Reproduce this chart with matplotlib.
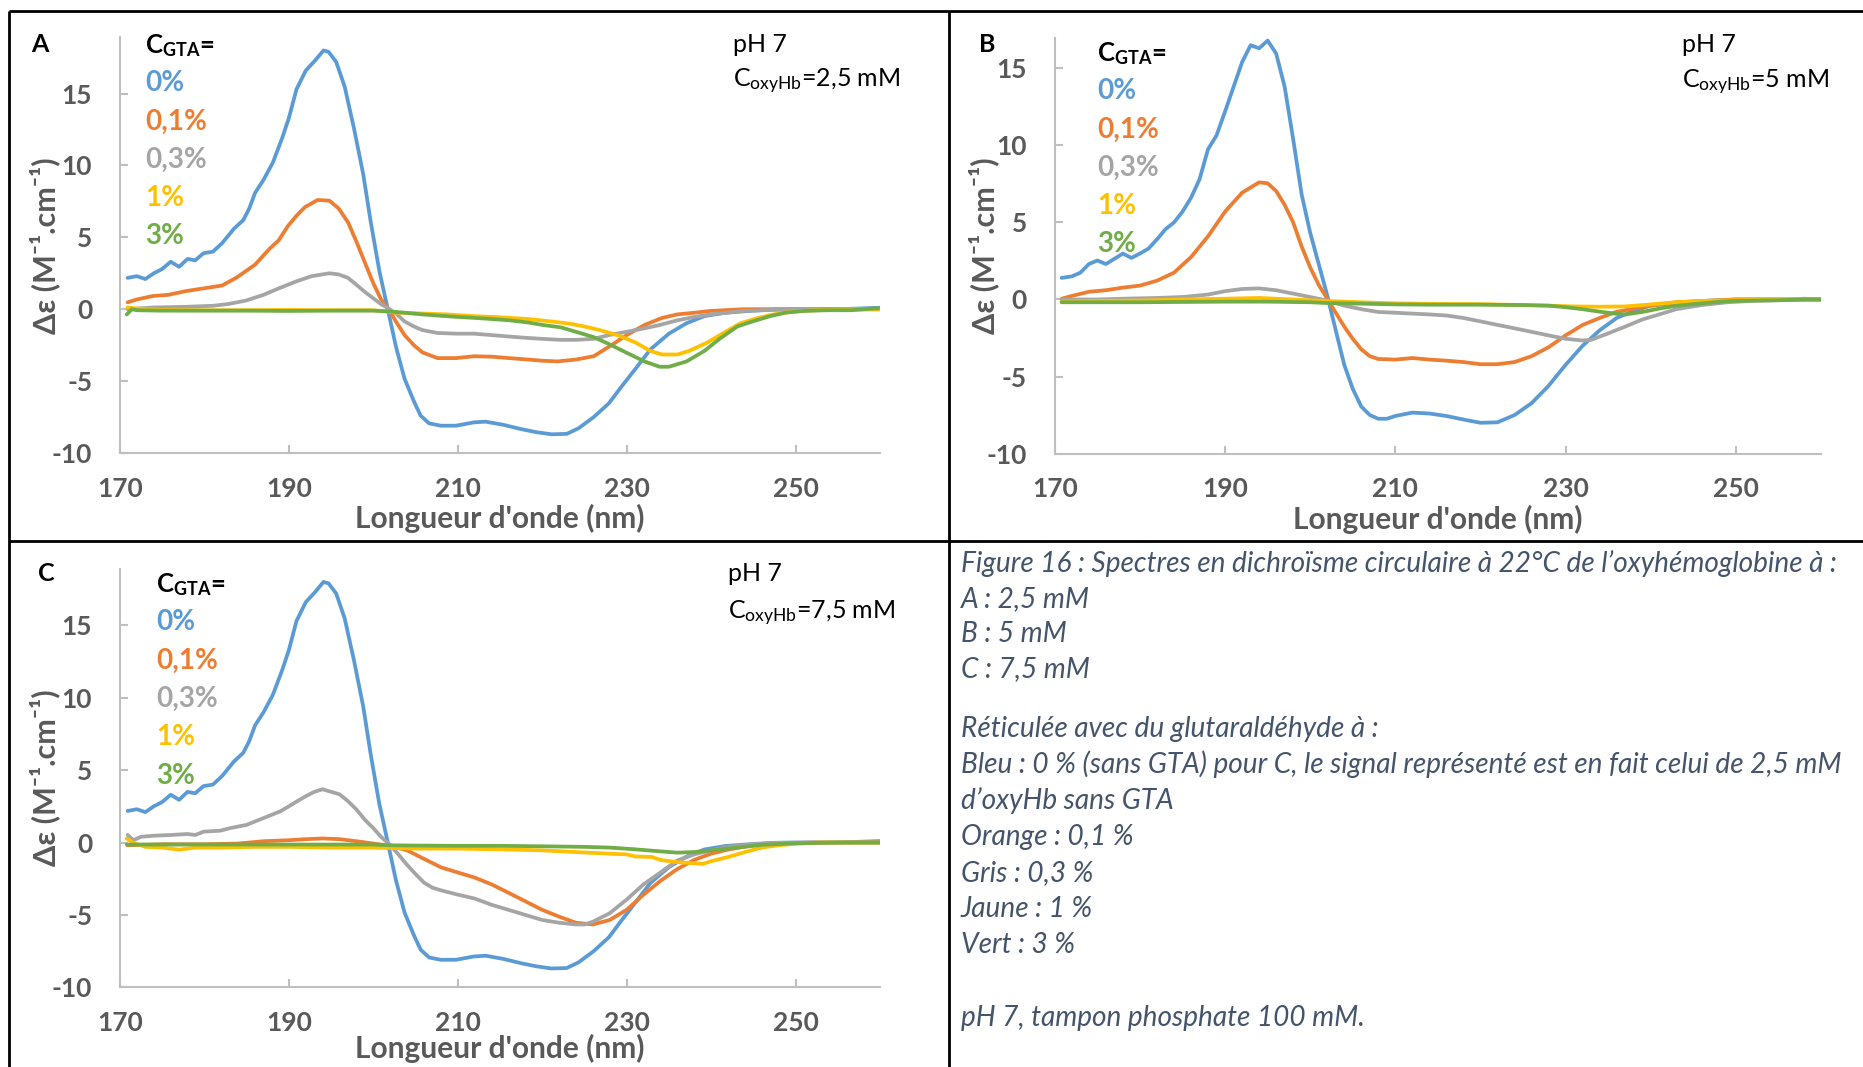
import matplotlib
matplotlib.use("Agg")
import matplotlib.pyplot as plt
from matplotlib.lines import Line2D

# ---------------- data ----------------
series_labels = ["0%", "0,1%", "0,3%", "1%", "3%"]
series_colors = ["#5B9BD5", "#ED7D31", "#A5A5A5", "#FFC000", "#70AD47"]
x_ticks = [170, 190, 210, 230, 250]
y_ticks = [-10, -5, 0, 5, 10, 15]
panel_letters = ["A", "B", "C"]
conc_labels = ["2,5 mM", "5 mM", "7,5 mM"]

# ---- Panel A : oxyHb 2,5 mM ----
wl_A_0 = [170.9, 172.0, 173.0, 174.0, 175.0, 176.0, 177.0, 178.0, 178.9, 179.9, 181.0, 182.1,
          183.5, 184.6, 185.3, 186.0, 187.0, 188.1, 189.2, 190.0, 190.9, 192.0, 193.1, 194.1,
          194.7, 195.6, 196.6, 197.7, 198.8, 199.7, 200.7, 201.8, 202.7, 203.7, 204.8, 205.6,
          206.6, 208.0, 209.8, 211.9, 213.3, 215.4, 217.6, 219.3, 221.1, 222.9, 224.3, 226.1,
          227.9, 229.3, 231.1, 232.8, 235.0, 237.1, 239.2, 241.7, 244.5, 247.4, 250.2, 255.0, 260.0]
de_A_0 = [2.18, 2.3, 2.1, 2.5, 2.8, 3.3, 2.95, 3.5, 3.4, 3.9, 4.0, 4.6,
          5.6, 6.2, 7.0, 8.1, 9.0, 10.2, 11.9, 13.3, 15.3, 16.6, 17.3, 18.0,
          17.9, 17.2, 15.5, 12.6, 9.4, 6.05, 2.7, -0.24, -2.66, -4.84, -6.4, -7.4,
          -7.94, -8.1, -8.1, -7.87, -7.82, -8.04, -8.35, -8.55, -8.7, -8.67, -8.28, -7.5,
          -6.54, -5.45, -4.1, -2.8, -1.7, -0.97, -0.48, -0.24, -0.12, -0.02, 0.0, 0.0, 0.1]

wl_A_01 = [170.9, 172.0, 173.9, 175.7, 177.8, 179.9, 182.1, 183.8, 186.0, 187.7, 188.8, 189.9,
           190.9, 191.9, 193.4, 194.8, 195.9, 197.0, 198.0, 199.1, 200.0, 200.9, 201.9, 202.8,
           203.7, 204.8, 205.8, 207.6, 209.8, 211.9, 214.0, 216.1, 218.3, 220.0, 221.8, 224.0,
           226.1, 228.2, 230.0, 232.1, 234.2, 236.0, 238.1, 239.9, 243.8, 250.0, 260.0]
de_A_01 = [0.48, 0.68, 0.92, 1.0, 1.26, 1.45, 1.65, 2.2, 3.1, 4.2, 4.8, 5.8,
           6.5, 7.1, 7.6, 7.55, 7.0, 6.05, 4.7, 3.1, 1.8, 0.7, -0.1, -0.97,
           -1.8, -2.5, -3.0, -3.4, -3.4, -3.27, -3.3, -3.4, -3.5, -3.58, -3.63, -3.5,
           -3.27, -2.5, -1.8, -1.1, -0.6, -0.36, -0.24, -0.12, 0.0, 0.0, 0.0]

wl_A_03 = [170.9, 173.9, 177.8, 181.0, 182.8, 184.9, 187.0, 188.8, 190.9, 192.7, 194.8, 195.9,
           197.0, 198.0, 199.0, 199.8, 200.9, 201.8, 202.8, 203.7, 204.8, 205.8, 207.6, 209.8,
           211.9, 214.0, 216.1, 218.3, 220.0, 222.2, 224.0, 226.1, 227.9, 230.0, 232.1, 233.9,
           236.0, 238.1, 239.9, 242.0, 243.8, 247.0, 250.0, 260.0]
de_A_03 = [0.0, 0.12, 0.17, 0.24, 0.36, 0.6, 1.0, 1.45, 1.94, 2.3, 2.5, 2.42,
           2.18, 1.7, 1.2, 0.85, 0.36, 0.05, -0.36, -0.85, -1.2, -1.45, -1.65, -1.7,
           -1.7, -1.8, -1.9, -2.0, -2.06, -2.13, -2.13, -2.06, -1.8, -1.57, -1.33, -1.1,
           -0.77, -0.53, -0.36, -0.24, -0.12, -0.05, 0.0, 0.0]

wl_A_1 = [170.9, 172.0, 175.0, 180.0, 185.0, 190.0, 195.0, 200.0, 202.8, 205.8, 208.7, 211.9,
          214.7, 218.3, 221.1, 223.2, 225.0, 226.8, 228.9, 231.0, 232.8, 234.2, 236.0, 237.4,
          239.6, 241.7, 243.5, 245.6, 247.4, 249.5, 252.3, 256.0, 260.0]
de_A_1 = [0.12, 0.05, -0.05, -0.07, -0.07, -0.05, -0.07, -0.07, -0.24, -0.3, -0.36, -0.48,
          -0.55, -0.68, -0.85, -1.0, -1.2, -1.45, -1.8, -2.3, -2.9, -3.15, -3.15, -2.9,
          -2.3, -1.57, -0.97, -0.6, -0.36, -0.17, -0.07, -0.02, 0.0]

wl_A_3 = [170.8, 171.4, 172.0, 175.0, 180.0, 185.0, 190.0, 195.0, 200.0, 201.8, 203.7, 205.8,
          207.6, 209.8, 211.9, 214.0, 216.1, 218.3, 220.0, 222.2, 224.0, 226.1, 227.9, 230.0,
          232.1, 233.9, 235.0, 237.1, 239.2, 241.0, 243.1, 244.9, 247.0, 248.8, 250.9, 253.8,
          256.6, 258.0, 259.8]
de_A_3 = [-0.36, 0.0, -0.07, -0.1, -0.1, -0.1, -0.12, -0.1, -0.1, -0.15, -0.24, -0.36,
          -0.44, -0.53, -0.6, -0.68, -0.77, -0.92, -1.09, -1.26, -1.57, -1.94, -2.42, -3.03,
          -3.63, -4.0, -4.0, -3.63, -2.9, -2.06, -1.2, -0.85, -0.48, -0.24, -0.12, -0.07,
          -0.07, 0.0, 0.07]

# ---- Panel B : oxyHb 5 mM ----
wl_B_0 = [170.8, 172, 173, 174, 175, 176, 177, 178, 179, 180, 181, 182, 183, 184, 185, 186,
          187, 188, 189, 190, 191, 192, 193, 194, 195, 196, 197, 198, 199, 200, 201, 202,
          203, 204, 205, 206, 207, 208, 209, 210, 212, 214, 216, 218, 220, 222, 224, 226,
          228, 230, 232, 234, 236, 238, 240, 243, 246, 250, 255, 260]
de_B_0 = [1.4, 1.5, 1.74, 2.3, 2.53, 2.3, 2.64, 2.98, 2.7, 2.98, 3.3, 3.9, 4.56, 5.0, 5.7, 6.6,
          7.8, 9.75, 10.65, 12.2, 13.8, 15.4, 16.5, 16.3, 16.8, 15.96, 13.8, 10.4, 6.8, 4.33, 2.3, 0.27,
          -2.0, -4.24, -5.8, -6.95, -7.5, -7.74, -7.74, -7.56, -7.34, -7.4, -7.56, -7.79, -8.0, -7.97, -7.5, -6.73,
          -5.6, -4.24, -3.0, -2.0, -1.2, -0.74, -0.4, -0.23, -0.1, 0.0, 0.0, 0.0]

wl_B_01 = [170.8, 172, 174, 176, 178, 180, 182, 184, 186, 188, 190, 192, 194, 195, 196, 197,
           198, 199, 200, 201, 202, 203, 204, 205, 206, 207, 208, 210, 212, 214, 216, 218,
           220, 222, 224, 226, 228, 230, 232, 234, 236, 238, 240, 243, 246, 250, 260]
de_B_01 = [0.05, 0.23, 0.5, 0.6, 0.77, 0.9, 1.22, 1.74, 2.75, 4.1, 5.7, 6.93, 7.6, 7.54, 7.04, 6.14,
           5.0, 3.43, 2.08, 0.95, 0.05, -0.86, -1.76, -2.55, -3.23, -3.68, -3.86, -3.9, -3.8, -3.9, -3.97, -4.06,
           -4.2, -4.2, -4.06, -3.68, -3.1, -2.33, -1.65, -1.2, -0.8, -0.59, -0.4, -0.18, -0.1, 0.0, 0.0]

wl_B_03 = [170.8, 175, 178, 182, 185, 188, 190, 192, 194, 196, 198, 200, 202, 204, 206, 208,
           210, 214, 216, 218, 220, 222, 224, 226, 228, 230, 232, 233, 235, 237, 239, 241,
           243, 246, 249, 252, 255, 258, 260]
de_B_03 = [0.0, 0.0, 0.05, 0.1, 0.16, 0.32, 0.54, 0.68, 0.72, 0.6, 0.38, 0.16, -0.07, -0.4, -0.63, -0.81,
           -0.86, -0.97, -1.04, -1.2, -1.42, -1.65, -1.87, -2.1, -2.33, -2.55, -2.66, -2.62, -2.2, -1.76, -1.3, -0.97,
           -0.63, -0.36, -0.18, -0.09, -0.05, 0.05, 0.0]

wl_B_1 = [170.8, 175, 180, 185, 190, 194, 198, 202, 206, 210, 215, 220, 225, 228, 231, 234,
          237, 240, 243, 246, 250, 255, 260]
de_B_1 = [-0.14, -0.09, -0.07, 0.0, 0.05, 0.1, 0.0, -0.1, -0.18, -0.25, -0.29, -0.3, -0.36, -0.4, -0.45, -0.47,
          -0.45, -0.32, -0.18, -0.1, -0.04, 0.0, 0.0]

wl_B_3 = [170.8, 175, 180, 185, 190, 195, 200, 202, 206, 210, 215, 220, 225, 228, 230, 232,
          234, 236, 237, 239, 241, 243, 246, 249, 252, 255, 258, 260]
de_B_3 = [-0.18, -0.18, -0.18, -0.16, -0.14, -0.14, -0.18, -0.23, -0.27, -0.32, -0.34, -0.34, -0.36, -0.4, -0.5, -0.63,
          -0.79, -0.93, -0.97, -0.81, -0.59, -0.41, -0.25, -0.11, -0.07, -0.05, 0.0, 0.0]

# ---- Panel C : oxyHb 7,5 mM (blue = 2,5 mM without GTA, as stated in the caption) ----
wl_C_0 = wl_A_0
de_C_0 = de_A_0

wl_C_01 = [170.9, 175, 180, 184, 187, 190, 192, 194, 196, 198, 200, 202, 204, 206, 208, 210,
           212, 214, 216, 218, 220, 222, 224, 226, 228, 230, 232, 234, 236, 238, 240, 242,
           245, 248, 252, 260]
de_C_01 = [-0.19, -0.12, -0.12, -0.07, 0.09, 0.16, 0.23, 0.28, 0.23, 0.09, -0.07, -0.23, -0.54, -1.13, -1.71, -2.07,
           -2.42, -2.89, -3.47, -4.06, -4.65, -5.12, -5.54, -5.66, -5.35, -4.65, -3.6, -2.65, -1.83, -1.2, -0.77, -0.49,
           -0.19, -0.07, 0.0, 0.0]

wl_C_03 = [170.9, 171.6, 172.5, 174, 176, 178, 178.9, 179.9, 181.9, 183, 185, 187, 189, 190, 191, 192,
           193, 194, 195, 196, 197, 198, 199, 200, 200.9, 201.9, 202.9, 203.9, 205, 206, 207, 208,
           210, 212, 214, 216, 218, 220, 222, 224, 225, 226, 228, 230, 232, 234, 236, 238,
           240, 242, 245, 248, 252, 260]
de_C_03 = [0.52, 0.16, 0.4, 0.47, 0.52, 0.59, 0.52, 0.75, 0.82, 0.99, 1.22, 1.69, 2.16, 2.5, 2.86, 3.2,
           3.5, 3.68, 3.5, 3.33, 2.86, 2.28, 1.57, 0.99, 0.4, -0.12, -0.77, -1.48, -2.18, -2.77, -3.12, -3.3,
           -3.6, -3.87, -4.3, -4.65, -5.0, -5.35, -5.54, -5.66, -5.66, -5.47, -4.88, -3.94, -2.89, -2.07, -1.24, -0.82,
           -0.54, -0.3, -0.12, -0.02, 0.0, 0.0]

wl_C_1 = [170.8, 171.5, 173, 175, 177, 179, 182, 186, 190, 195, 200, 205, 210, 215, 220, 224,
          228, 230, 231, 233, 234, 236, 238, 239, 240, 242, 244, 246, 248, 250, 253, 260]
de_C_1 = [0.28, 0.0, -0.3, -0.35, -0.49, -0.35, -0.35, -0.3, -0.3, -0.35, -0.35, -0.42, -0.42, -0.47, -0.54, -0.66,
          -0.77, -0.82, -0.96, -1.0, -1.2, -1.36, -1.43, -1.48, -1.29, -1.0, -0.66, -0.35, -0.19, -0.09, 0.0, 0.0]

wl_C_3 = [170.8, 180, 190, 200, 202, 205, 210, 215, 220, 225, 228, 231, 234, 236, 238, 240,
          243, 246, 250, 255, 260]
de_C_3 = [-0.14, -0.14, -0.14, -0.14, -0.19, -0.21, -0.23, -0.23, -0.26, -0.3, -0.35, -0.47, -0.61, -0.7, -0.66, -0.54,
          -0.35, -0.16, -0.05, 0.0, 0.0]

caption_blocks = [
    ["Figure 16 : Spectres en dichroïsme circulaire à 22°C de l’oxyhémoglobine à :",
     "A : 2,5 mM",
     "B : 5 mM",
     "C : 7,5 mM"],
    ["Réticulée avec du glutaraldéhyde à :",
     "Bleu : 0 % (sans GTA) pour C, le signal représenté est en fait celui de 2,5 mM",
     "d’oxyHb sans GTA",
     "Orange : 0,1 %",
     "Gris : 0,3 %",
     "Jaune : 1 %",
     "Vert : 3 %"],
    ["pH 7, tampon phosphate 100 mM."],
]

# ---------------- style ----------------
plt.rcParams["font.family"] = ["Lato", "DejaVu Sans"]
plt.rcParams["mathtext.fontset"] = "custom"
plt.rcParams["mathtext.rm"] = "Lato"
plt.rcParams["mathtext.bf"] = "Lato:bold"
plt.rcParams["mathtext.it"] = "Lato:italic"
plt.rcParams["axes.unicode_minus"] = False

W, H = 1863, 1067
fig = plt.figure(figsize=(W / 100, H / 100), dpi=100)
fig.patch.set_facecolor("white")

AXIS_GREY = "#BFBFBF"
TXT_GREY = "#595959"


def ptext(x, y, s, **kw):
    return fig.text(x / W, 1 - y / H, s, **kw)


panels = [
    dict(box=(120, 37.5, 880, 453), ymax=18.9,
         series=[(wl_A_0, de_A_0), (wl_A_01, de_A_01), (wl_A_03, de_A_03), (wl_A_1, de_A_1), (wl_A_3, de_A_3)],
         letter=(31, 52), legend=(145, 53), ph=(733, 52), conc=(733, 87), ylab_x=45, xlab_y=528),
    dict(box=(1054.8, 37.5, 1821, 453.6), ymax=17.0,
         series=[(wl_B_0, de_B_0), (wl_B_01, de_B_01), (wl_B_03, de_B_03), (wl_B_1, de_B_1), (wl_B_3, de_B_3)],
         letter=(979, 52), legend=(1097, 61), ph=(1682, 52), conc=(1682, 88), ylab_x=984, xlab_y=529),
    dict(box=(120, 568.9, 880, 987.3), ymax=18.9,
         series=[(wl_C_0, de_C_0), (wl_C_01, de_C_01), (wl_C_03, de_C_03), (wl_C_1, de_C_1), (wl_C_3, de_C_3)],
         letter=(38, 581), legend=(156, 592), ph=(728, 581), conc=(728, 619), ylab_x=45, xlab_y=1058),
]

for i, p in enumerate(panels):
    l, t, r, b = p["box"]
    ax = fig.add_axes([l / W, 1 - b / H, (r - l) / W, (b - t) / H])
    for (wl, de), col in zip(p["series"], series_colors):
        ax.plot(wl, de, color=col, lw=2.7, solid_joinstyle="round", solid_capstyle="round")
    ax.set_xlim(170, 260)
    ax.set_ylim(-10, p["ymax"])
    ax.set_xticks(x_ticks)
    ax.set_yticks(y_ticks)
    ax.set_xticklabels([str(v) for v in x_ticks])
    ax.set_yticklabels([str(v) for v in y_ticks])
    for s in ["top", "right"]:
        ax.spines[s].set_visible(False)
    for s in ["left", "bottom"]:
        ax.spines[s].set_color(AXIS_GREY)
        ax.spines[s].set_linewidth(1.5)
    ax.tick_params(axis="both", direction="in", length=6, width=1.5, color=AXIS_GREY,
                   labelsize=19, labelcolor=TXT_GREY)
    ax.tick_params(axis="x", pad=17)
    ax.tick_params(axis="y", pad=20)
    for lab in ax.get_xticklabels() + ax.get_yticklabels():
        lab.set_fontweight("bold")
    ax.patch.set_alpha(0)

    # axis titles
    ptext((l + r) / 2, p["xlab_y"], "Longueur d'onde (nm)", ha="center", va="baseline",
          fontsize=21.5, fontweight="bold", color=TXT_GREY)
    ptext(p["ylab_x"], (t + b) / 2, "Δε (M⁻¹.cm⁻¹)", ha="center", va="center", rotation=90,
          fontsize=22, fontweight="bold", color=TXT_GREY)

    # panel letter
    ptext(p["letter"][0], p["letter"][1], panel_letters[i], ha="left", va="baseline",
          fontsize=18, fontweight="bold", color="black")
    # legend-like labels
    lx, ly = p["legend"]
    ptext(lx, ly, r"C$_{\mathbf{GTA}}$=", ha="left", va="baseline", fontsize=18.5,
          fontweight="bold", color="black")
    for k, (lab, col) in enumerate(zip(series_labels, series_colors)):
        ptext(lx, ly + 38.3 * (k + 1), lab, ha="left", va="baseline", fontsize=20,
              fontweight="bold", color=col)
    # conditions
    ptext(p["ph"][0], p["ph"][1], "pH 7", ha="left", va="baseline", fontsize=18, color="black")
    ptext(p["conc"][0], p["conc"][1], r"C$_{\mathrm{oxyHb}}$=" + conc_labels[i], ha="left",
          va="baseline", fontsize=18, color="black")

# caption (three paragraphs, pixel baselines of their first lines and line steps)
block_layout = [(571.7, 35.0), (736.7, 36.1), (1025.7, 36.0)]
for lines, (y0, step) in zip(caption_blocks, block_layout):
    for k, line in enumerate(lines):
        ptext(961, y0 + k * step, line, ha="left", va="baseline", fontsize=20.2,
              style="italic", color="#44546A")

# table frame
frame = [((9, 11), (W, 11)), ((9, 541), (W, 541)), ((9, 11), (9, H)), ((949, 11), (949, H))]
for (x0, y0), (x1, y1) in frame:
    fig.add_artist(Line2D([x0 / W, x1 / W], [1 - y0 / H, 1 - y1 / H], transform=fig.transFigure,
                          color="black", lw=2.0, solid_capstyle="butt"))

fig.savefig("out.png", dpi=100)
